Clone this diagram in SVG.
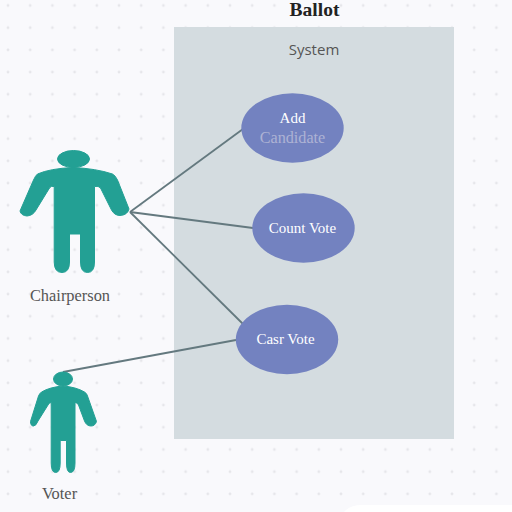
<svg xmlns="http://www.w3.org/2000/svg" width="512" height="512" viewBox="0 0 512 512">
<style>
.actor{fill:#23a094;stroke:#23a094;stroke-width:1;stroke-linejoin:round}
.uc{fill:#7382c0}
.uct{font-family:"Liberation Serif",serif;font-size:15px;fill:#fff;text-anchor:middle}
.lbl{font-family:"Liberation Serif",serif;font-size:16.400px;fill:#555;text-anchor:middle}
.conn{stroke:#64797f;stroke-width:1.800;fill:none}
</style>
<defs>
<pattern id="dots" x="8" y="5.500" width="22.200" height="22.200" patternUnits="userSpaceOnUse">
<circle cx="0" cy="0" r="1.400" fill="#e6e6ea"/><circle cx="22.200" cy="0" r="1.400" fill="#e6e6ea"/><circle cx="0" cy="22.200" r="1.400" fill="#e6e6ea"/><circle cx="22.200" cy="22.200" r="1.400" fill="#e6e6ea"/>
</pattern>
</defs>
<rect width="512" height="512" fill="#f9f9fc"/>
<rect width="512" height="512" fill="url(#dots)"/>
<path d="M344 512Q350 505 362 505H512V512Z" fill="#fff"/>
<text x="314.500" y="16" font-family="Liberation Serif,serif" font-size="19.500" font-weight="bold" fill="#222" text-anchor="middle">Ballot</text>
<g id="system">
<rect x="174" y="27" width="280" height="412" fill="#d4dce0"/>
<text x="314" y="54.500" font-family="Open Sans,sans-serif" font-size="15" fill="#555" text-anchor="middle">System</text>
</g>
<g id="connectors">
<line class="conn" x1="130" y1="212" x2="243" y2="129"/>
<line class="conn" x1="130" y1="212" x2="253" y2="228"/>
<line class="conn" x1="130" y1="212" x2="243" y2="324"/>
<line class="conn" x1="63" y1="372" x2="236" y2="340"/>
</g>
<g id="chairperson">
<ellipse class="actor" cx="73.500" cy="159" rx="16" ry="8.500"/>
<path class="actor" d="M37.500 174Q50 168.500 73 167.500Q96 168.500 112.500 174Q115.500 175.500 117.500 180L129 209Q127.500 215 120 215.500Q114.500 215.500 111.500 210L100.500 188Q98.500 185.500 94.500 186.500V262Q94.500 272.500 87.500 272.500Q80.500 272.500 80.500 262V234H69.500V262Q69.500 272.500 62 272.500Q54.200 272.500 54.200 262V186.500Q51 185.500 49.500 188L36 210Q33 215.500 27 216Q21 215.500 20 211L33.500 180Q35.500 175.500 37.500 174Z"/>
<text class="lbl" x="70" y="301">Chairperson</text>
</g>
<g id="voter">
<ellipse class="actor" cx="63" cy="379" rx="9.500" ry="7"/>
<path class="actor" d="M41.500 392Q50 387 63 386Q76 387 84.500 392Q87 393.500 87.500 396L96.500 421.500Q95 426 91 426Q86.500 426 84.500 421L78.500 405Q77.500 402.500 75 402.500V463Q75 472.500 70.500 472.500Q66.500 472.500 66.500 463V440.500H60.200V463Q60.200 472.500 55.700 472.500Q51.200 472.500 51.200 463V402.500Q49 402.500 48 405L38 421Q36 426 33.500 426Q30.500 426 30.500 421.500L38.500 396Q39.500 393.500 41.500 392Z"/>
<text class="lbl" x="59.500" y="498.500">Voter</text>
</g>
<g id="add-candidate">
<ellipse class="uc" cx="292.500" cy="128" rx="51.200" ry="34.700"/>
<text class="uct" x="292.500" y="123">Add</text>
<text class="uct" x="292.500" y="142.500" style="fill:#adb2d4;font-size:16.200px">Candidate</text>
</g>
<g id="count-vote">
<ellipse class="uc" cx="303.500" cy="228" rx="51.200" ry="34.700"/>
<text class="uct" x="302.500" y="233">Count Vote</text>
</g>
<g id="cast-vote">
<ellipse class="uc" cx="287" cy="339.500" rx="51.200" ry="34.700"/>
<text class="uct" x="285.500" y="344">Casr Vote</text>
</g>
</svg>
